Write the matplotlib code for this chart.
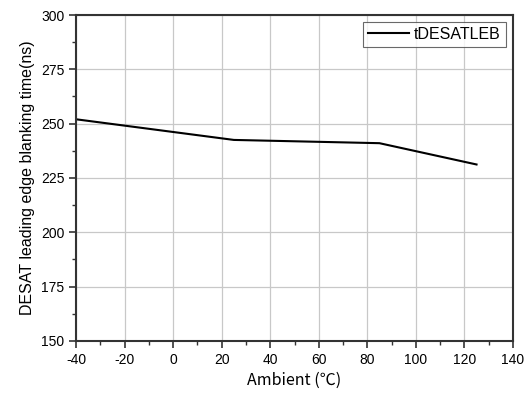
import matplotlib
matplotlib.use("Agg")
import matplotlib.pyplot as plt
from matplotlib.ticker import MultipleLocator

# data
ambient = [-40, 25, 85, 125]
t_desat_leb = [252, 242.5, 241, 231.2]

plt.rcParams["font.family"] = ["Liberation Sans", "Noto Sans CJK SC", "DejaVu Sans"]
plt.rcParams["axes.unicode_minus"] = False

fig = plt.figure(figsize=(5.25, 3.95), dpi=100)
ax = fig.add_axes([0.145, 0.137, 0.832, 0.825])

ax.plot(ambient, t_desat_leb, color="black", linewidth=1.5, label="tDESATLEB")

ax.set_xlim(-40, 140)
ax.set_ylim(150, 300)
ax.xaxis.set_major_locator(MultipleLocator(20))
ax.xaxis.set_minor_locator(MultipleLocator(10))
ax.yaxis.set_major_locator(MultipleLocator(25))
ax.yaxis.set_minor_locator(MultipleLocator(12.5))

ax.grid(True, which="major", color="#c8c8c8", linewidth=0.9)
ax.set_axisbelow(True)

for s in ax.spines.values():
    s.set_color("#333333")
    s.set_linewidth(1.5)

ax.tick_params(which="major", direction="out", length=5, width=1.2,
               color="#333333", labelsize=10, top=False, right=False)
ax.tick_params(which="minor", direction="out", length=3, width=1.0,
               color="#333333", top=False, right=False)

ax.set_xlabel("Ambient (\u2103)", fontsize=11.5, labelpad=4,
              family=["Noto Sans CJK SC", "Liberation Sans"])
ax.set_ylabel("DESAT leading edge blanking time(ns)", fontsize=11.5, labelpad=4)

leg = ax.legend(loc="upper right", fontsize=11.5, frameon=True, fancybox=False,
                handlelength=2.6, borderpad=0.3, handletextpad=0.3,
                borderaxespad=0.45)
leg.get_frame().set_edgecolor("#444444")
leg.get_frame().set_linewidth(0.8)

fig.savefig("out.png", dpi=100)
